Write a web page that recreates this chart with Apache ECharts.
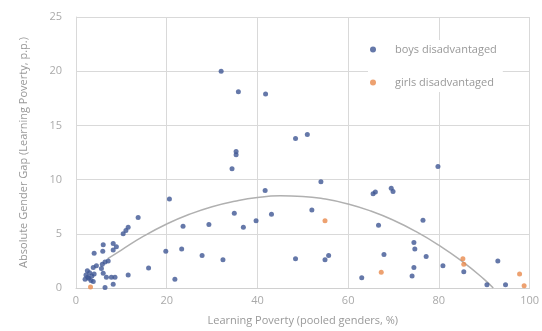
<!DOCTYPE html>
<html>
<head>
<meta charset="utf-8">
<script src="https://cdn.jsdelivr.net/npm/echarts@6/dist/echarts.min.js"></script>
<style>
  html, body { margin: 0; padding: 0; background: #fff; }
  #chart { width: 542px; height: 331px; }
</style>
</head>
<body>
<div id="chart"></div>
<script>
// boys disadvantaged: learning poverty (x) vs absolute gap (y)
const boysX = [32.0, 35.8, 41.8, 48.4, 51.0, 35.3, 35.3, 34.4,
  54.0, 41.7, 20.6, 52.0, 34.9, 43.1, 39.7, 36.9, 29.3, 23.6, 19.8, 23.3, 27.8, 32.4, 21.8, 48.4, 54.9, 55.7,
  79.8, 65.5, 66.0, 69.5, 69.9, 66.7, 76.5, 74.5, 74.7, 67.9, 77.2, 80.9, 74.5, 74.1, 63.0, 85.5, 93.0, 90.6, 94.7,
  13.7, 11.5, 11.0, 10.4, 6.0, 8.2, 8.9, 4.0, 5.9, 8.2, 7.1, 6.4, 5.8, 4.5, 3.8,
  2.5, 3.0, 2.2, 3.5, 2.8, 2.0, 3.3, 4.0, 2.6, 3.8,
  6.0, 6.7, 7.8, 8.6, 5.6, 11.5, 16.0, 8.2, 6.4];
const boysY = [20.0, 18.1, 17.9, 13.8, 14.15, 12.6, 12.3, 11.0,
  9.8, 9.0, 8.2, 7.2, 6.9, 6.8, 6.2, 5.6, 5.85, 5.7, 3.4, 3.6, 3.0, 2.6, 0.8, 2.7, 2.6, 3.0,
  11.2, 8.7, 8.85, 9.2, 8.9, 5.8, 6.25, 4.2, 3.6, 3.1, 2.9, 2.05, 1.9, 1.1, 0.95, 1.5, 2.5, 0.3, 0.3,
  6.5, 5.6, 5.3, 5.0, 4.0, 4.1, 3.8, 3.2, 3.4, 3.5, 2.5, 2.4, 2.2, 2.05, 1.9,
  1.6, 1.4, 1.2, 1.1, 0.9, 0.8, 0.7, 1.3, 1.0, 0.6,
  1.35, 1.0, 1.0, 1.0, 1.8, 1.2, 1.85, 0.35, 0.05];

// girls disadvantaged
const girlsX = [54.9, 67.3, 85.3, 85.5, 97.8, 98.8, 3.2];
const girlsY = [6.2, 1.45, 2.7, 2.2, 1.3, 0.2, 0.1];

// fitted trend curve
const trendX = [7, 10, 15, 20, 25, 30, 35, 40, 45, 50, 55, 60, 65, 70, 75, 80, 85, 90, 92];
const trendY = [2.7, 3.5, 4.8, 5.9, 6.8, 7.5, 8.0, 8.35, 8.5, 8.45, 8.2, 7.75, 7.1, 6.25, 5.2, 3.95, 2.5, 0.8, 0];

const xTicks = [0, 20, 40, 60, 80, 100];
const yTicks = [0, 5, 10, 15, 20, 25];

const zip = (xs, ys) => xs.map((x, i) => [x, ys[i]]);

const font = '"Open Sans", "Liberation Sans", sans-serif';
const gridLine = { show: true, lineStyle: { color: '#d9d9d9', width: 1 } };

const chart = echarts.init(document.getElementById('chart'));
chart.setOption({
  animation: false,
  grid: { left: 76, right: 11, top: 17, bottom: 42 },
  legend: {
    orient: 'vertical',
    left: 368,
    top: 40,
    itemGap: 22,
    itemWidth: 6,
    itemHeight: 6,
    backgroundColor: '#fff',
    padding: [4, 6, 4, 2],
    textStyle: { color: '#999', fontSize: 11, fontFamily: font, padding: [0, 0, 0, 14] },
    data: [
      { name: 'boys disadvantaged', icon: 'circle' },
      { name: 'girls disadvantaged', icon: 'circle' }
    ]
  },
  xAxis: {
    type: 'value',
    min: xTicks[0],
    max: xTicks[xTicks.length - 1],
    interval: 20,
    name: 'Learning Poverty (pooled genders, %)',
    nameLocation: 'middle',
    nameGap: 27,
    nameTextStyle: { color: '#999', fontSize: 11, fontFamily: font },
    axisLine: { show: true, lineStyle: { color: '#d0d0d0' } },
    axisTick: { show: false },
    axisLabel: { color: '#aaa', fontSize: 11, fontFamily: font, margin: 7 },
    splitLine: gridLine
  },
  yAxis: {
    type: 'value',
    min: yTicks[0],
    max: yTicks[yTicks.length - 1],
    interval: 5,
    name: 'Absolute Gender Gap (Learning Poverty, p.p.)',
    nameLocation: 'middle',
    nameGap: 47,
    nameTextStyle: { color: '#999', fontSize: 11, fontFamily: font },
    axisLine: { show: true, lineStyle: { color: '#d9d9d9' } },
    axisTick: { show: false },
    axisLabel: { color: '#aaa', fontSize: 11, fontFamily: font, margin: 14 },
    splitLine: gridLine
  },
  series: [
    {
      name: 'trend',
      type: 'line',
      data: zip(trendX, trendY),
      smooth: true,
      showSymbol: false,
      silent: true,
      lineStyle: { color: '#b0b0b0', width: 1.5 },
      z: 1
    },
    {
      name: 'boys disadvantaged',
      type: 'scatter',
      data: zip(boysX, boysY),
      symbolSize: 5,
      itemStyle: { color: '#3f5694' },
      z: 3
    },
    {
      name: 'girls disadvantaged',
      type: 'scatter',
      data: zip(girlsX, girlsY),
      symbolSize: 5,
      itemStyle: { color: '#e98a4c' },
      z: 3
    }
  ]
});
</script>
</body>
</html>
